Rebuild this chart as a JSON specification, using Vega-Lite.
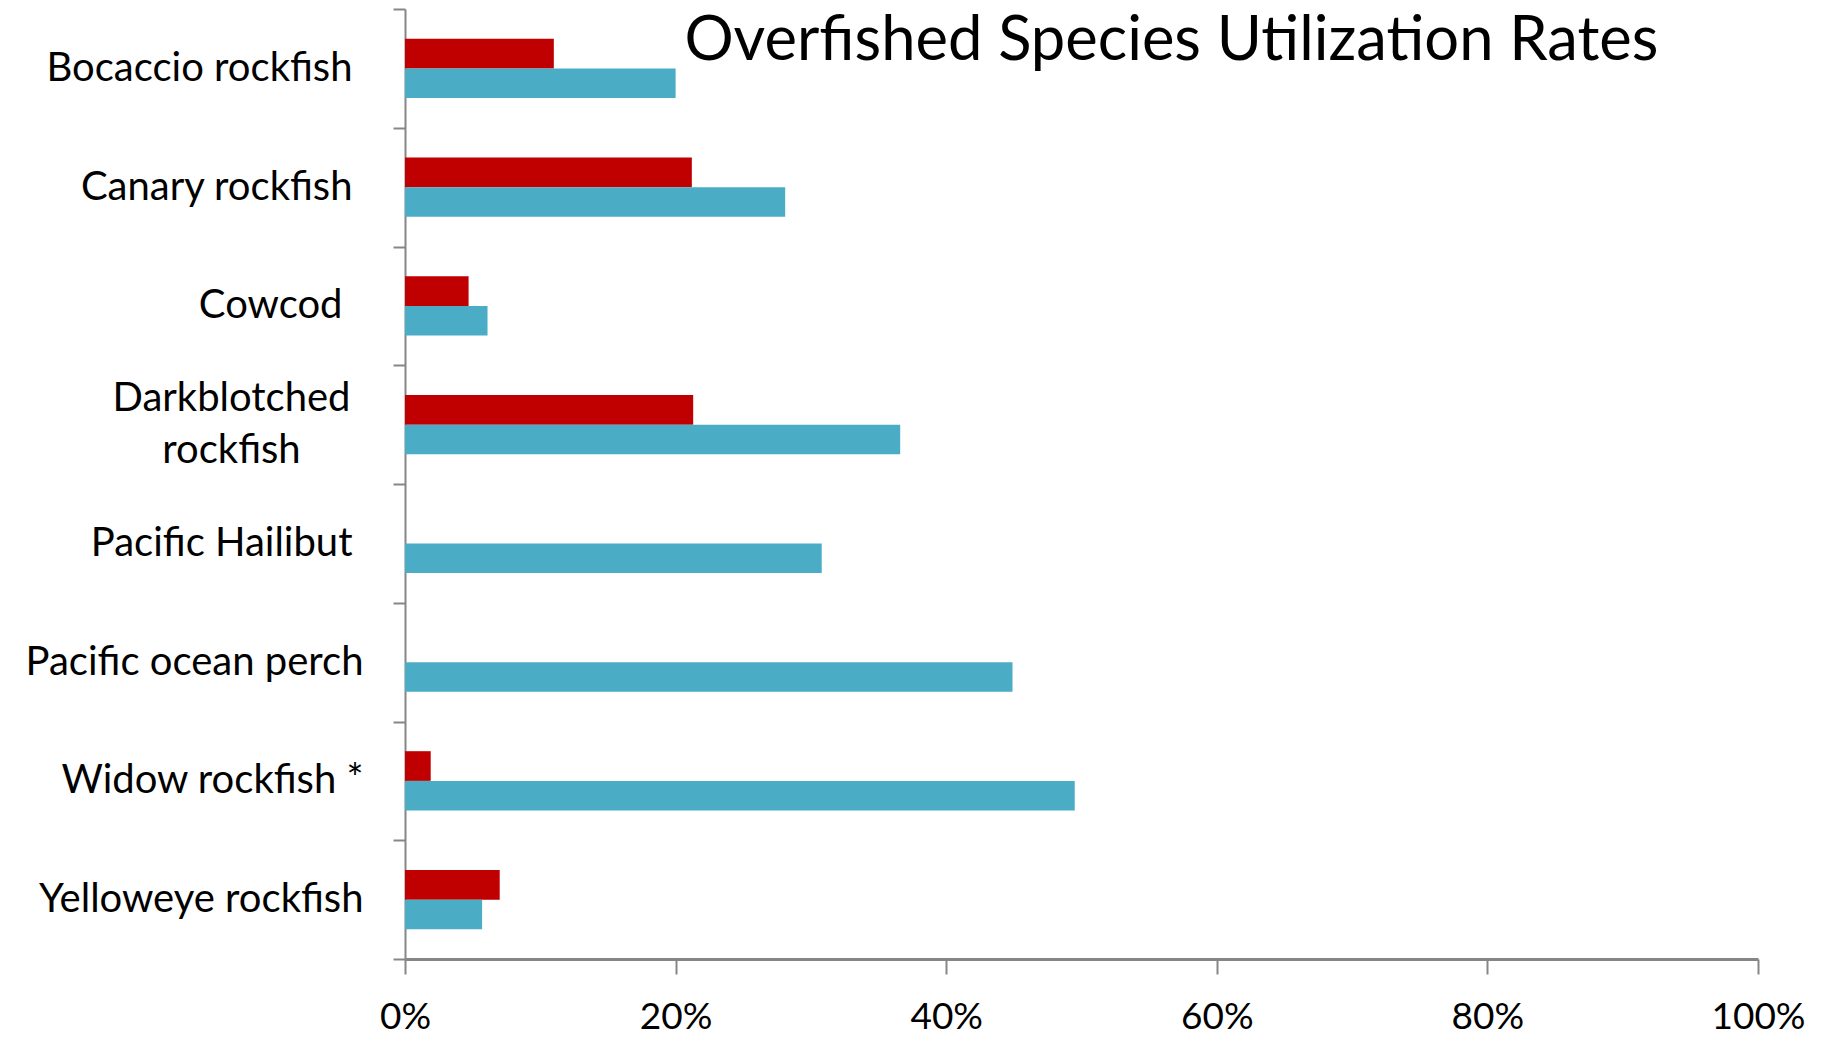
{
  "$schema": "https://vega.github.io/schema/vega-lite/v6.json",
  "autosize": {"type": "none"},
  "width": 1353,
  "height": 950,
  "padding": {"left": 405, "top": 9, "right": 71, "bottom": 86},
  "background": "white",
  "config": {"view": {"stroke": null}, "font": "Lato"},
  "data": {
    "values": [
      {"species": "Bocaccio rockfish", "series": "Series 1", "rate": 0.110},
      {"species": "Bocaccio rockfish", "series": "Series 2", "rate": 0.200},
      {"species": "Canary rockfish", "series": "Series 1", "rate": 0.212},
      {"species": "Canary rockfish", "series": "Series 2", "rate": 0.281},
      {"species": "Cowcod", "series": "Series 1", "rate": 0.047},
      {"species": "Cowcod", "series": "Series 2", "rate": 0.061},
      {"species": "Darkblotched rockfish", "series": "Series 1", "rate": 0.213},
      {"species": "Darkblotched rockfish", "series": "Series 2", "rate": 0.366},
      {"species": "Pacific Hailibut", "series": "Series 2", "rate": 0.308},
      {"species": "Pacific ocean perch", "series": "Series 2", "rate": 0.449},
      {"species": "Widow rockfish *", "series": "Series 1", "rate": 0.019},
      {"species": "Widow rockfish *", "series": "Series 2", "rate": 0.495},
      {"species": "Yelloweye rockfish", "series": "Series 1", "rate": 0.070},
      {"species": "Yelloweye rockfish", "series": "Series 2", "rate": 0.057}
    ]
  },
  "encoding": {
    "y": {
      "field": "species",
      "type": "nominal",
      "sort": null,
      "scale": {"paddingInner": 0, "paddingOuter": 0},
      "axis": {
        "title": null,
        "tickBand": "extent",
        "domainColor": "#868686",
        "domainWidth": 2,
        "tickColor": "#868686",
        "tickWidth": 2,
        "tickSize": 12,
        "labelFontSize": 40,
        "labelColor": "black",
        "labelLimit": 0,
        "labelLineHeight": 52,
        "labelPadding": {
          "condition": [
            {"test": "datum.value == 'Darkblotched rockfish'", "value": 162},
            {"test": "datum.value == 'Cowcod'", "value": 51},
            {"test": "datum.value == 'Pacific ocean perch' || datum.value == 'Widow rockfish *' || datum.value == 'Yelloweye rockfish'", "value": 30}
          ],
          "value": 41
        },
        "labelAlign": {
          "condition": {"test": "datum.value == 'Darkblotched rockfish'", "value": "center"},
          "value": "right"
        },
        "labelOffset": {
          "condition": {"test": "datum.value == 'Darkblotched rockfish'", "value": -26},
          "value": 0
        },
        "labelExpr": "datum.value == 'Darkblotched rockfish' ? ['Darkblotched', 'rockfish'] : datum.value"
      }
    },
    "x": {
      "field": "rate",
      "type": "quantitative",
      "scale": {"domain": [0, 1], "nice": false},
      "axis": {
        "title": null,
        "values": [0, 0.2, 0.4, 0.6, 0.8, 1],
        "format": ".0%",
        "grid": false,
        "domainColor": "#868686",
        "domainWidth": 3,
        "tickColor": "#868686",
        "tickWidth": 2,
        "tickSize": 15,
        "labelFontSize": 37,
        "labelColor": "black",
        "labelPadding": 25,
        "labelFlush": false
      }
    }
  },
  "layer": [
    {
      "mark": {"type": "bar"},
      "encoding": {
        "yOffset": {
          "field": "series",
          "type": "nominal",
          "sort": ["Series 1", "Series 2"],
          "scale": {"paddingInner": 0, "paddingOuter": 1.12}
        },
        "color": {
          "field": "series",
          "type": "nominal",
          "scale": {"domain": ["Series 1", "Series 2"], "range": ["#C00000", "#4BACC6"]},
          "legend": null
        }
      }
    },
    {
      "data": {"values": [{"title": "Overfished Species Utilization Rates", "xpos": 0.5665, "species": "Bocaccio rockfish"}]},
      "mark": {"type": "text", "fontSize": 61.5, "font": "Lato", "color": "black", "baseline": "alphabetic", "align": "center", "dy": -8},
      "encoding": {
        "x": {"field": "xpos", "type": "quantitative"},
        "y": {"field": "species", "type": "nominal", "sort": null},
        "text": {"field": "title"}
      }
    }
  ]
}
